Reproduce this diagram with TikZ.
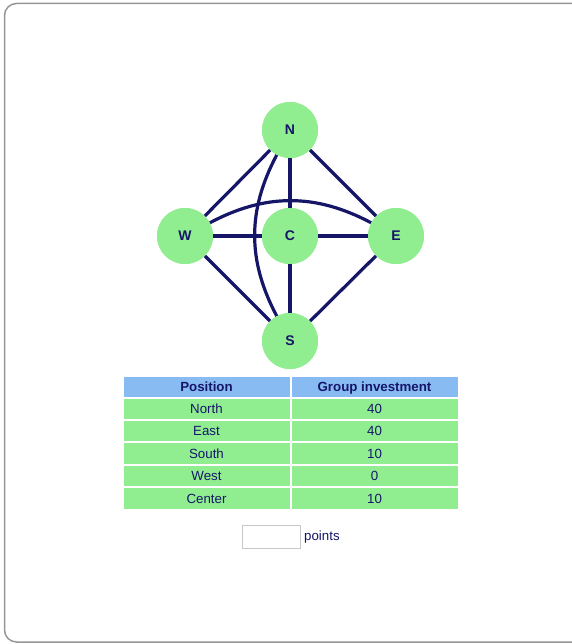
\documentclass[tikz,border=0pt]{standalone}
\usepackage{fontspec}
\setmainfont{Liberation Sans}
\definecolor{navy}{RGB}{22,22,105}
\definecolor{lgreen}{RGB}{144,238,144}
\definecolor{hblue}{RGB}{136,187,242}
\definecolor{framegray}{RGB}{150,150,150}
\definecolor{boxgray}{RGB}{200,200,200}
\begin{document}
\begin{tikzpicture}[x=1pt,y=-1pt,
  vert/.style={circle,fill=lgreen,minimum size=56pt,inner sep=0pt,font=\bfseries\fontsize{14}{16}\selectfont,text=navy},
  edge/.style={draw=navy,line width=3.2pt},
  hcell/.style={fill=hblue,minimum width=166pt,minimum height=20.5pt,inner sep=0pt,text height=10.6pt,text depth=1.4pt,font=\bfseries\fontsize{13.3}{15}\selectfont,text=navy},
  cell/.style={fill=lgreen,minimum width=166pt,minimum height=20.5pt,inner sep=0pt,text height=10.6pt,text depth=1.4pt,font=\fontsize{13.3}{15}\selectfont,text=navy}]
\useasboundingbox (0,0) rectangle (571,644);
\draw[framegray,line width=1.5pt,rounded corners=12pt] (4.5,3.5) rectangle (585,642);
% vertices
\node[vert] (N) at (290,130) {N};
\node[vert] (W) at (185,236) {W};
\node[vert] (C) at (290,236) {C};
\node[vert] (E) at (396,236) {E};
\node[vert] (S) at (290,341) {S};
% edges
\path[edge] (N) -- (W);
\path[edge] (N) -- (E);
\path[edge] (N) -- (C);
\path[edge] (W) -- (C);
\path[edge] (C) -- (E);
\path[edge] (C) -- (S);
\path[edge] (W) -- (S);
\path[edge] (E) -- (S);
\path[edge] (W) to[bend left=28] (E);
\path[edge] (N) to[bend right=28] (S);
% redraw vertices on top
\node[vert] at (N) {N};
\node[vert] at (W) {W};
\node[vert] at (C) {C};
\node[vert] at (E) {E};
\node[vert] at (S) {S};
% table
\node[hcell] (h1) at (206.5,387) {Position};
\node[hcell] (h2) at (374.5,387) {Group investment};
\node[cell] (a1) at (206.5,409) {North};
\node[cell] (b1) at (374.5,409) {40};
\node[cell] (a2) at (206.5,431) {East};
\node[cell] (b2) at (374.5,431) {40};
\node[cell] (a3) at (206.5,453.5) {South};
\node[cell] (b3) at (374.5,453.5) {10};
\node[cell] (a4) at (206.5,476) {West};
\node[cell] (b4) at (374.5,476) {0};
\node[cell] (a5) at (206.5,498.5) {Center};
\node[cell] (b5) at (374.5,498.5) {10};
% input box
\node[draw=boxgray,line width=1pt,minimum width=58pt,minimum height=23pt,inner sep=0pt] (box) at (271,536.5) {};
\node[anchor=west,inner sep=0pt,font=\fontsize{13.3}{15}\selectfont,text=navy] (pts) at (304,537.5) {points};
\end{tikzpicture}
\end{document}
